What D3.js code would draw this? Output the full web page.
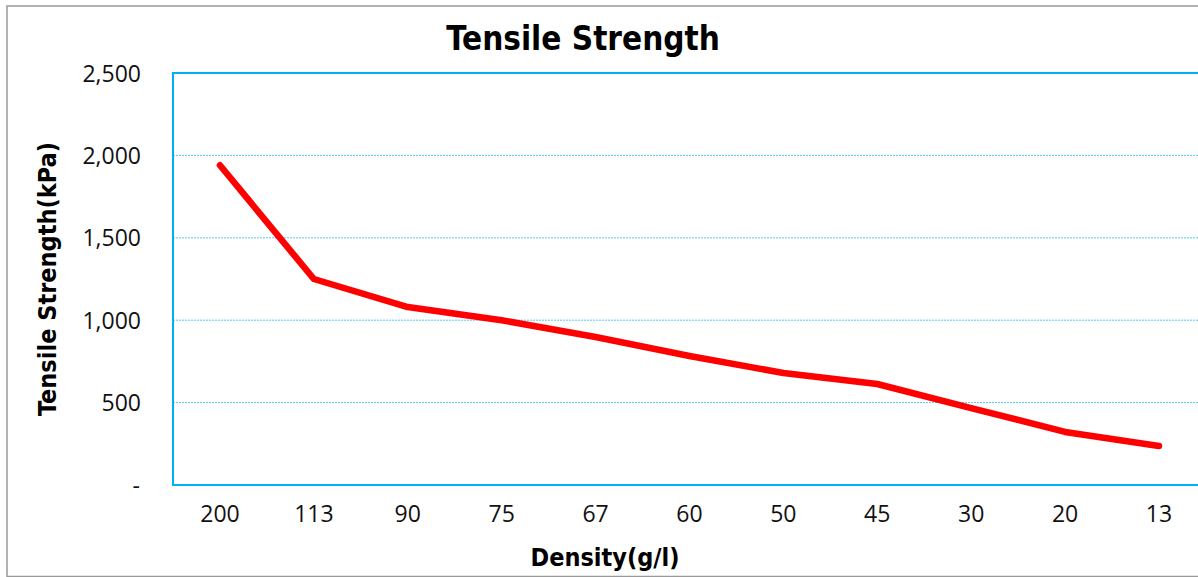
<!DOCTYPE html>
<html>
<head>
<meta charset="utf-8">
<script src="https://cdn.jsdelivr.net/npm/d3@7"></script>
<style>
  body { margin: 0; background: #fff; }
  svg text { font-family: "Open Sans", "DejaVu Sans", sans-serif; }
  .ttl { font-family: "DejaVu Sans Condensed", "DejaVu Sans", sans-serif; }
</style>
</head>
<body>
<div id="chart"></div>
<script>
// data
var densities = ["200", "113", "90", "75", "67", "60", "50", "45", "30", "20", "13"];
var strength = [1940, 1250, 1080, 1000, 898, 783, 680, 613, 467, 322, 237];
var yTicks = [0, 500, 1000, 1500, 2000, 2500];

var width = 1198, height = 577;
var plotLeft = 173, plotTop = 73, plotBottom = 485;
var band = 93.9;
var plotRight = plotLeft + band * densities.length;

var svg = d3.select("#chart").append("svg")
  .attr("width", width)
  .attr("height", height);

// outer frame
svg.append("rect")
  .attr("x", 7).attr("y", 6)
  .attr("width", width + 10).attr("height", height - 6.5)
  .attr("fill", "none")
  .attr("stroke", "#999")
  .attr("stroke-width", 1.5);

var x = d3.scaleBand()
  .domain(densities)
  .range([plotLeft, plotRight]);

var y = d3.scaleLinear()
  .domain([0, 2500])
  .range([plotBottom, plotTop]);

// gridlines
svg.append("g")
  .selectAll("line")
  .data(yTicks.filter(function(d){ return d > 0 && d < 2500; }))
  .enter().append("line")
  .attr("x1", plotLeft).attr("x2", plotRight)
  .attr("y1", function(d){ return y(d); })
  .attr("y2", function(d){ return y(d); })
  .attr("stroke", "#55c8f0")
  .attr("stroke-width", 1)
  .attr("stroke-dasharray", "2,1");

// plot frame
svg.append("rect")
  .attr("x", plotLeft).attr("y", plotTop)
  .attr("width", plotRight - plotLeft).attr("height", plotBottom - plotTop)
  .attr("fill", "none")
  .attr("stroke", "#00b0f0")
  .attr("stroke-width", 2);

// y tick labels
var yAxis = d3.axisLeft(y)
  .tickValues(yTicks)
  .tickSize(0)
  .tickPadding(0)
  .tickFormat(function(d){ return d === 0 ? "-" : d3.format(",")(d); });

var gy = svg.append("g")
  .attr("transform", "translate(141,0)")
  .call(yAxis);
gy.select(".domain").remove();
gy.selectAll("text")
  .attr("font-size", 23)
  .attr("fill", "#111")
  .attr("dy", "0.35em");
gy.selectAll("text").filter(function(d){ return d === 0; }).attr("dx", -1);

// x tick labels
var xAxis = d3.axisBottom(x).tickSize(0).tickPadding(0);
var gx = svg.append("g")
  .attr("transform", "translate(0,505)")
  .call(xAxis);
gx.select(".domain").remove();
gx.selectAll("text")
  .attr("font-size", 23)
  .attr("fill", "#111")
  .attr("dy", "0.75em");

// line
var line = d3.line()
  .x(function(d, i){ return x(densities[i]) + x.bandwidth() / 2; })
  .y(function(d){ return y(d); });

svg.append("path")
  .datum(strength)
  .attr("d", line)
  .attr("fill", "none")
  .attr("stroke", "#ff0000")
  .attr("stroke-width", 6.5)
  .attr("stroke-linecap", "round")
  .attr("stroke-linejoin", "round");

// titles
svg.append("text")
  .attr("class", "ttl")
  .attr("x", 583).attr("y", 50)
  .attr("text-anchor", "middle")
  .attr("font-size", 33)
  .attr("font-weight", "bold")
  .text("Tensile Strength");

svg.append("text")
  .attr("class", "ttl")
  .attr("x", 605).attr("y", 566)
  .attr("text-anchor", "middle")
  .attr("font-size", 25)
  .attr("font-weight", "bold")
  .text("Density(g/l)");

svg.append("text")
  .attr("class", "ttl")
  .attr("transform", "translate(56,279) rotate(-90)")
  .attr("text-anchor", "middle")
  .attr("font-size", 25)
  .attr("font-weight", "bold")
  .text("Tensile Strength(kPa)");
</script>
</body>
</html>
